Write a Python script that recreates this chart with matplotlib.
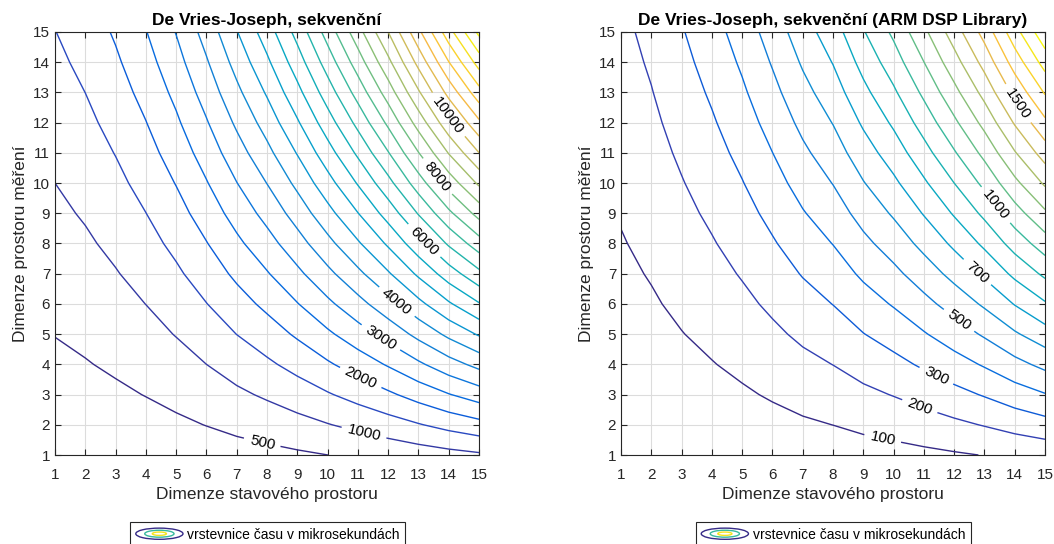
import numpy as np
import matplotlib
matplotlib.use("Agg")
import matplotlib.pyplot as plt
from matplotlib.colors import LinearSegmentedColormap
from matplotlib.legend_handler import HandlerBase
from matplotlib.patches import Ellipse

plt.rcParams['font.family'] = ['Liberation Sans', 'DejaVu Sans']

# dimenze stavoveho prostoru (x) a prostoru mereni (y)
state_dim = list(range(1, 16))
meas_dim = list(range(1, 16))

# cas v mikrosekundach, radky = dimenze mereni 1..15, sloupce = dimenze stavu 1..15
time_seq = [
    [118, 134, 156, 184, 220, 265, 317, 369, 430, 499, 572, 652, 744, 839, 927],
    [216, 248, 292, 348, 420, 510, 614, 718, 840, 978, 1124, 1284, 1468, 1658, 1834],
    [314, 362, 428, 512, 620, 755, 911, 1067, 1250, 1457, 1676, 1916, 2192, 2477, 2741],
    [412, 476, 564, 676, 820, 1000, 1208, 1416, 1660, 1936, 2228, 2548, 2916, 3296, 3648],
    [510, 590, 700, 840, 1020, 1245, 1505, 1765, 2070, 2415, 2780, 3180, 3640, 4115, 4555],
    [608, 704, 836, 1004, 1220, 1490, 1802, 2114, 2480, 2894, 3332, 3812, 4364, 4934, 5462],
    [706, 818, 972, 1168, 1420, 1735, 2099, 2463, 2890, 3373, 3884, 4444, 5088, 5753, 6369],
    [804, 932, 1108, 1332, 1620, 1980, 2396, 2812, 3300, 3852, 4436, 5076, 5812, 6572, 7276],
    [902, 1046, 1244, 1496, 1820, 2225, 2693, 3161, 3710, 4331, 4988, 5708, 6536, 7391, 8183],
    [1000, 1160, 1380, 1660, 2020, 2470, 2990, 3510, 4120, 4810, 5540, 6340, 7260, 8210, 9090],
    [1098, 1274, 1516, 1824, 2220, 2715, 3287, 3859, 4530, 5289, 6092, 6972, 7984, 9029, 9997],
    [1196, 1388, 1652, 1988, 2420, 2960, 3584, 4208, 4940, 5768, 6644, 7604, 8708, 9848, 10904],
    [1294, 1502, 1788, 2152, 2620, 3205, 3881, 4557, 5350, 6247, 7196, 8236, 9432, 10667, 11811],
    [1392, 1616, 1924, 2316, 2820, 3450, 4178, 4906, 5760, 6726, 7748, 8868, 10156, 11486, 12718],
    [1490, 1730, 2060, 2480, 3020, 3695, 4475, 5255, 6170, 7205, 8300, 9500, 10880, 12305, 13625],
]

time_arm = [
    [11.8, 15.1, 19.5, 24.1, 29.6, 36.3, 43.7, 50.3, 59.5, 68.0, 78.5, 90.0, 102.5, 117.5, 131.5],
    [23.6, 30.2, 39.0, 48.2, 59.2, 72.6, 87.4, 100.6, 119.0, 136.0, 157.0, 180.0, 205.0, 235.0, 263.0],
    [35.4, 45.3, 58.5, 72.3, 88.8, 108.9, 131.1, 150.9, 178.5, 204.0, 235.5, 270.0, 307.5, 352.5, 394.5],
    [47.2, 60.4, 78.0, 96.4, 118.4, 145.2, 174.8, 201.2, 238.0, 272.0, 314.0, 360.0, 410.0, 470.0, 526.0],
    [59.0, 75.5, 97.5, 120.5, 148.0, 181.5, 218.5, 251.5, 297.5, 340.0, 392.5, 450.0, 512.5, 587.5, 657.5],
    [70.8, 90.6, 117.0, 144.6, 177.6, 217.8, 262.2, 301.8, 357.0, 408.0, 471.0, 540.0, 615.0, 705.0, 789.0],
    [82.6, 105.7, 136.5, 168.7, 207.2, 254.1, 305.9, 352.1, 416.5, 476.0, 549.5, 630.0, 717.5, 822.5, 920.5],
    [94.4, 120.8, 156.0, 192.8, 236.8, 290.4, 349.6, 402.4, 476.0, 544.0, 628.0, 720.0, 820.0, 940.0, 1052.0],
    [106.2, 135.9, 175.5, 216.9, 266.4, 326.7, 393.3, 452.7, 535.5, 612.0, 706.5, 810.0, 922.5, 1057.5, 1183.5],
    [118.0, 151.0, 195.0, 241.0, 296.0, 363.0, 437.0, 503.0, 595.0, 680.0, 785.0, 900.0, 1025.0, 1175.0, 1315.0],
    [129.8, 166.1, 214.5, 265.1, 325.6, 399.3, 480.7, 553.3, 654.5, 748.0, 863.5, 990.0, 1127.5, 1292.5, 1446.5],
    [141.6, 181.2, 234.0, 289.2, 355.2, 435.6, 524.4, 603.6, 714.0, 816.0, 942.0, 1080.0, 1230.0, 1410.0, 1578.0],
    [153.4, 196.3, 253.5, 313.3, 384.8, 471.9, 568.1, 653.9, 773.5, 884.0, 1020.5, 1170.0, 1332.5, 1527.5, 1709.5],
    [165.2, 211.4, 273.0, 337.4, 414.4, 508.2, 611.8, 704.2, 833.0, 952.0, 1099.0, 1260.0, 1435.0, 1645.0, 1841.0],
    [177.0, 226.5, 292.5, 361.5, 444.0, 544.5, 655.5, 754.5, 892.5, 1020.0, 1177.5, 1350.0, 1537.5, 1762.5, 1972.5],
]

levels_seq = list(range(500, 14000, 500))
levels_arm = list(range(100, 2000, 100))

# parula (MATLAB), kazda ctvrta barva z 64
parula_pts = [
    (0.2081, 0.1663, 0.5292), (0.1959, 0.2645, 0.7279), (0.0117, 0.3875, 0.8820),
    (0.0498, 0.4586, 0.8641), (0.0793, 0.5200, 0.8312), (0.0343, 0.5966, 0.8199),
    (0.0228, 0.6535, 0.7768), (0.0843, 0.6928, 0.7062), (0.2178, 0.7250, 0.6193),
    (0.3953, 0.7459, 0.5244), (0.5709, 0.7485, 0.4494), (0.7184, 0.7411, 0.3905),
    (0.8507, 0.7299, 0.3360), (0.9739, 0.7314, 0.2666), (0.9880, 0.8066, 0.1794),
    (0.9589, 0.8949, 0.1132), (0.9763, 0.9831, 0.0538),
]
parula = LinearSegmentedColormap.from_list("parula", parula_pts)


class ContourIcon:
    pass


class ContourIconHandler(HandlerBase):
    def create_artists(self, legend, orig_handle, xdescent, ydescent,
                       width, height, fontsize, trans):
        cx = 0.5*width - xdescent
        cy = 0.5*height - ydescent
        out = []
        for s, c in [(1.0, parula_pts[0]), (0.62, parula_pts[8]), (0.3, parula_pts[15])]:
            e = Ellipse((cx, cy), width*s, height*1.15*s, fill=False,
                        edgecolor=c, lw=1.0, transform=trans)
            out.append(e)
        return out


def draw(fig, rect, z, levels, lab_pos, title):
    ax = fig.add_axes(rect)
    z = np.array(z)
    cs = ax.contour(state_dim, meas_dim, z, levels=levels, cmap=parula,
                    vmin=levels[0], vmax=levels[-1], linewidths=1.0)
    # popisky jen na vybranych vrstevnicich (nejblizsi k zadanym bodum)
    ax.clabel(cs, manual=lab_pos, inline=True, inline_spacing=6,
              fmt='%d', fontsize=11, colors='k')

    ax.set_xlim(1, 15)
    ax.set_ylim(1, 15)
    ax.set_xticks(state_dim)
    ax.set_yticks(meas_dim)
    ax.grid(True, color='#dcdcdc', linewidth=0.8)
    ax.set_axisbelow(True)
    ax.tick_params(direction='in', top=True, right=True, length=4, labelsize=11,
                   colors='#262626')
    ax.tick_params(axis='x', pad=9)
    for sp in ax.spines.values():
        sp.set_color('#262626')
        sp.set_linewidth(0.8)
    ax.set_title(title, fontsize=12.5, fontweight='bold', pad=5)
    ax.set_xlabel('Dimenze stavového prostoru', fontsize=12.5, color='#262626')
    ax.set_ylabel('Dimenze prostoru měření', fontsize=12.5, color='#262626')
    return ax


fig = plt.figure(figsize=(10.54, 5.44), dpi=100)

pos_seq = [(7.86, 1.5), (11.2, 1.73), (11.1, 3.58), (11.7, 4.8), (12.2, 5.97),
           (13.3, 8.2), (13.6, 10.2), (13.9, 12.2)]
pos_arm = [(9.63, 1.5), (10.84, 2.55), (11.4, 3.6), (12.17, 5.47), (12.78, 7.07),
           (13.38, 9.28), (14.2, 12.7)]

draw(fig, [0.0522, 0.1636, 0.4023, 0.7776], time_seq, levels_seq, pos_seq,
     'De Vries-Joseph, sekvenční')
draw(fig, [0.5892, 0.1636, 0.4023, 0.7776], time_arm, levels_arm, pos_arm,
     'De Vries-Joseph, sekvenční (ARM DSP Library)')

for xc in [0.254, 0.7905]:
    leg = fig.legend([ContourIcon()], ['vrstevnice času v mikrosekundách'],
                     handler_map={ContourIcon: ContourIconHandler()},
                     loc='upper center', bbox_to_anchor=(xc, 0.0404), fontsize=10,
                     fancybox=False, framealpha=1, edgecolor='#262626',
                     handlelength=3.4, handletextpad=0.3, borderpad=0.4,
                     borderaxespad=0)
    leg.get_frame().set_linewidth(0.8)

plt.savefig('out.png', dpi=100)
